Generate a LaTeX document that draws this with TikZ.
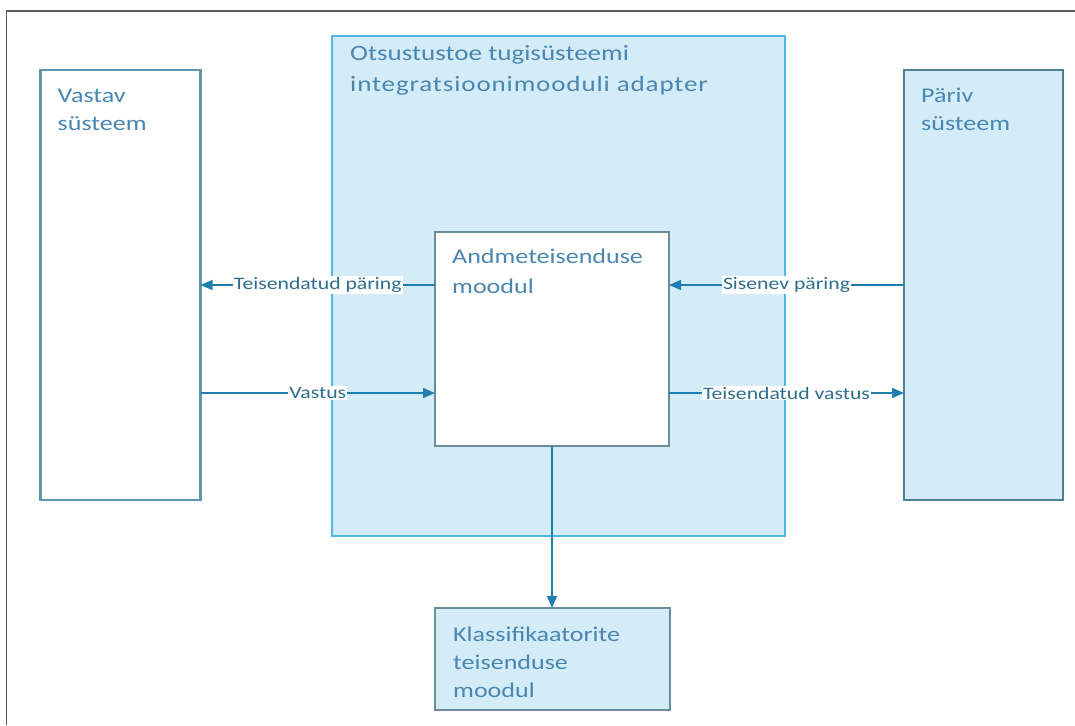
\documentclass[tikz,border=0pt]{standalone}
\usepackage{fontspec}
\setmainfont{Carlito}[FakeStretch=1.24]
\usetikzlibrary{arrows.meta}

\definecolor{panelfill}{HTML}{D3ECF8}
\definecolor{panelline}{HTML}{4FB8E6}
\definecolor{sysline}{HTML}{5B98AE}
\definecolor{modline}{HTML}{6A8C9C}
\definecolor{flowline}{HTML}{1F7FB0}
\definecolor{boxtextcol}{HTML}{4A86B2}
\definecolor{lbltextcol}{HTML}{2E6E8E}
\definecolor{framegray}{HTML}{5A5A5A}

\tikzset{
  box/.style={draw, rectangle, line width=2.3pt, inner sep=0pt, outer sep=0pt},
  % the base anchor of a multi-line node sits on its last line
  boxtext/.style={anchor=base west, align=left, inner sep=0pt, text=boxtextcol,
    font=\fontsize{21}{28}\selectfont},
  flow/.style={draw=flowline, line width=1.5pt, -{Triangle[length=12pt,width=10pt]}},
  lbl/.style={fill=white, text=lbltextcol, inner sep=1pt, font=\fontsize{17.5}{20}\selectfont}
}

\begin{document}
\begin{tikzpicture}[x=1pt,y=-1pt]
\useasboundingbox (0,0) rectangle (1075,725);
\fill[white] (0,0) rectangle (1075,725);

% page frame
\draw[framegray, line width=1.3pt] (6.5,725) -- (6.5,11) -- (1075,11);

% containers and modules
\node[box, draw=panelline, fill=panelfill, minimum width=453pt, minimum height=500pt] (adapter) at (558.5,285.75) {};
\node[box, draw=sysline, fill=white, minimum width=160pt, minimum height=430pt] (vastav) at (120.5,285) {};
\node[box, draw=sysline!85!black, fill=panelfill, minimum width=159pt, minimum height=430pt] (pariv) at (983.5,285) {};
\node[box, draw=modline, fill=white, minimum width=234pt, minimum height=214pt] (andme) at (552,339) {};
\node[box, draw=modline, fill=panelfill, minimum width=235pt, minimum height=102pt] (klass) at (552.5,659) {};

% box titles
\node[boxtext, font=\fontsize{21.8}{31}\selectfont] (adapterT) at ([xshift=18pt,yshift=-56pt]adapter.north west) {Otsustustoe tugisüsteemi\\{\addfontfeature{LetterSpace=4}integratsioonimooduli adapter}};
\node[boxtext] (vastavT) at ([xshift=17pt,yshift=-60pt]vastav.north west) {Vastav\\süsteem};
\node[boxtext] (parivT) at ([xshift=17pt,yshift=-60pt]pariv.north west) {Päriv\\süsteem};
\node[boxtext, font=\fontsize{21}{30}\selectfont] (andmeT) at ([xshift=17pt,yshift=-61pt]andme.north west) {Andmeteisenduse\\moodul};
\node[boxtext, font=\fontsize{21}{28}\selectfont] (klassT) at ([xshift=18pt,yshift=-89pt]klass.north west) {Klassifikaatorite\\teisenduse\\moodul};

% message rows
\coordinate (reqrow) at (0,285);
\coordinate (resprow) at (0,393);

\draw[flow] (andme.west |- reqrow) -- node[lbl] (l1) {Teisendatud päring} (vastav.east |- reqrow);
\draw[flow] (vastav.east |- resprow) -- node[lbl] (l2) {Vastus} (andme.west |- resprow);
\draw[flow] (pariv.west |- reqrow) -- node[lbl] (l3) {Sisenev päring} (andme.east |- reqrow);
\draw[flow] (andme.east |- resprow) -- node[lbl] (l4) {Teisendatud vastus} (pariv.west |- resprow);
\draw[flow] (andme.south) -- (andme.south |- klass.north);
\end{tikzpicture}
\end{document}
